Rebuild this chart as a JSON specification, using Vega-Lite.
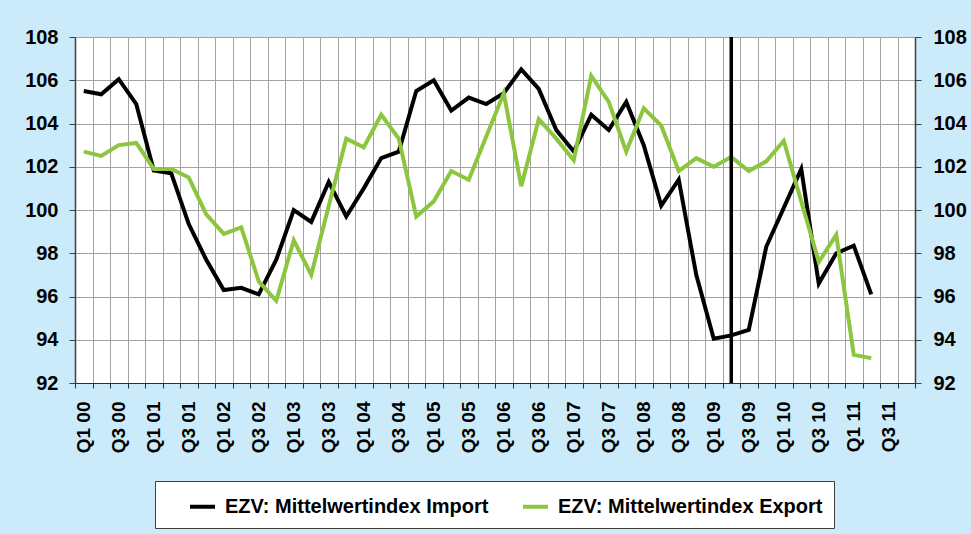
{
  "$schema": "https://vega.github.io/schema/vega-lite/v6.json",
  "width": 840,
  "height": 346,
  "autosize": {"type": "none"},
  "padding": {"left": 75, "top": 37, "right": 56, "bottom": 151},
  "background": "#ccebfa",
  "config": {"view": {"fill": "white", "stroke": null}, "font": "Liberation Sans"},
  "datasets": {
    "d": [
      {"q":"Q1 00","s":"EZV: Mittelwertindex Import","v":105.5},
      {"q":"Q2 00","s":"EZV: Mittelwertindex Import","v":105.35},
      {"q":"Q3 00","s":"EZV: Mittelwertindex Import","v":106.05},
      {"q":"Q4 00","s":"EZV: Mittelwertindex Import","v":104.9},
      {"q":"Q1 01","s":"EZV: Mittelwertindex Import","v":101.83},
      {"q":"Q2 01","s":"EZV: Mittelwertindex Import","v":101.7},
      {"q":"Q3 01","s":"EZV: Mittelwertindex Import","v":99.35},
      {"q":"Q4 01","s":"EZV: Mittelwertindex Import","v":97.7},
      {"q":"Q1 02","s":"EZV: Mittelwertindex Import","v":96.3},
      {"q":"Q2 02","s":"EZV: Mittelwertindex Import","v":96.4},
      {"q":"Q3 02","s":"EZV: Mittelwertindex Import","v":96.1},
      {"q":"Q4 02","s":"EZV: Mittelwertindex Import","v":97.7},
      {"q":"Q1 03","s":"EZV: Mittelwertindex Import","v":100.0},
      {"q":"Q2 03","s":"EZV: Mittelwertindex Import","v":99.45},
      {"q":"Q3 03","s":"EZV: Mittelwertindex Import","v":101.3},
      {"q":"Q4 03","s":"EZV: Mittelwertindex Import","v":99.7},
      {"q":"Q1 04","s":"EZV: Mittelwertindex Import","v":101.0},
      {"q":"Q2 04","s":"EZV: Mittelwertindex Import","v":102.4},
      {"q":"Q3 04","s":"EZV: Mittelwertindex Import","v":102.7},
      {"q":"Q4 04","s":"EZV: Mittelwertindex Import","v":105.5},
      {"q":"Q1 05","s":"EZV: Mittelwertindex Import","v":106.0},
      {"q":"Q2 05","s":"EZV: Mittelwertindex Import","v":104.6},
      {"q":"Q3 05","s":"EZV: Mittelwertindex Import","v":105.2},
      {"q":"Q4 05","s":"EZV: Mittelwertindex Import","v":104.9},
      {"q":"Q1 06","s":"EZV: Mittelwertindex Import","v":105.4},
      {"q":"Q2 06","s":"EZV: Mittelwertindex Import","v":106.5},
      {"q":"Q3 06","s":"EZV: Mittelwertindex Import","v":105.6},
      {"q":"Q4 06","s":"EZV: Mittelwertindex Import","v":103.7},
      {"q":"Q1 07","s":"EZV: Mittelwertindex Import","v":102.7},
      {"q":"Q2 07","s":"EZV: Mittelwertindex Import","v":104.4},
      {"q":"Q3 07","s":"EZV: Mittelwertindex Import","v":103.7},
      {"q":"Q4 07","s":"EZV: Mittelwertindex Import","v":105.0},
      {"q":"Q1 08","s":"EZV: Mittelwertindex Import","v":103.0},
      {"q":"Q2 08","s":"EZV: Mittelwertindex Import","v":100.2},
      {"q":"Q3 08","s":"EZV: Mittelwertindex Import","v":101.4},
      {"q":"Q4 08","s":"EZV: Mittelwertindex Import","v":97.0},
      {"q":"Q1 09","s":"EZV: Mittelwertindex Import","v":94.05},
      {"q":"Q2 09","s":"EZV: Mittelwertindex Import","v":94.2},
      {"q":"Q3 09","s":"EZV: Mittelwertindex Import","v":94.45},
      {"q":"Q4 09","s":"EZV: Mittelwertindex Import","v":98.3},
      {"q":"Q1 10","s":"EZV: Mittelwertindex Import","v":100.1},
      {"q":"Q2 10","s":"EZV: Mittelwertindex Import","v":101.9},
      {"q":"Q3 10","s":"EZV: Mittelwertindex Import","v":96.6},
      {"q":"Q4 10","s":"EZV: Mittelwertindex Import","v":98.0},
      {"q":"Q1 11","s":"EZV: Mittelwertindex Import","v":98.35},
      {"q":"Q2 11","s":"EZV: Mittelwertindex Import","v":96.1},
      {"q":"Q1 00","s":"EZV: Mittelwertindex Export","v":102.7},
      {"q":"Q2 00","s":"EZV: Mittelwertindex Export","v":102.5},
      {"q":"Q3 00","s":"EZV: Mittelwertindex Export","v":103.0},
      {"q":"Q4 00","s":"EZV: Mittelwertindex Export","v":103.1},
      {"q":"Q1 01","s":"EZV: Mittelwertindex Export","v":101.9},
      {"q":"Q2 01","s":"EZV: Mittelwertindex Export","v":101.9},
      {"q":"Q3 01","s":"EZV: Mittelwertindex Export","v":101.5},
      {"q":"Q4 01","s":"EZV: Mittelwertindex Export","v":99.8},
      {"q":"Q1 02","s":"EZV: Mittelwertindex Export","v":98.9},
      {"q":"Q2 02","s":"EZV: Mittelwertindex Export","v":99.2},
      {"q":"Q3 02","s":"EZV: Mittelwertindex Export","v":96.7},
      {"q":"Q4 02","s":"EZV: Mittelwertindex Export","v":95.8},
      {"q":"Q1 03","s":"EZV: Mittelwertindex Export","v":98.6},
      {"q":"Q2 03","s":"EZV: Mittelwertindex Export","v":97.0},
      {"q":"Q3 03","s":"EZV: Mittelwertindex Export","v":100.2},
      {"q":"Q4 03","s":"EZV: Mittelwertindex Export","v":103.3},
      {"q":"Q1 04","s":"EZV: Mittelwertindex Export","v":102.9},
      {"q":"Q2 04","s":"EZV: Mittelwertindex Export","v":104.4},
      {"q":"Q3 04","s":"EZV: Mittelwertindex Export","v":103.3},
      {"q":"Q4 04","s":"EZV: Mittelwertindex Export","v":99.7},
      {"q":"Q1 05","s":"EZV: Mittelwertindex Export","v":100.4},
      {"q":"Q2 05","s":"EZV: Mittelwertindex Export","v":101.8},
      {"q":"Q3 05","s":"EZV: Mittelwertindex Export","v":101.4},
      {"q":"Q4 05","s":"EZV: Mittelwertindex Export","v":103.4},
      {"q":"Q1 06","s":"EZV: Mittelwertindex Export","v":105.4},
      {"q":"Q2 06","s":"EZV: Mittelwertindex Export","v":101.1},
      {"q":"Q3 06","s":"EZV: Mittelwertindex Export","v":104.2},
      {"q":"Q4 06","s":"EZV: Mittelwertindex Export","v":103.3},
      {"q":"Q1 07","s":"EZV: Mittelwertindex Export","v":102.3},
      {"q":"Q2 07","s":"EZV: Mittelwertindex Export","v":106.2},
      {"q":"Q3 07","s":"EZV: Mittelwertindex Export","v":105.0},
      {"q":"Q4 07","s":"EZV: Mittelwertindex Export","v":102.7},
      {"q":"Q1 08","s":"EZV: Mittelwertindex Export","v":104.7},
      {"q":"Q2 08","s":"EZV: Mittelwertindex Export","v":103.9},
      {"q":"Q3 08","s":"EZV: Mittelwertindex Export","v":101.8},
      {"q":"Q4 08","s":"EZV: Mittelwertindex Export","v":102.4},
      {"q":"Q1 09","s":"EZV: Mittelwertindex Export","v":102.0},
      {"q":"Q2 09","s":"EZV: Mittelwertindex Export","v":102.45},
      {"q":"Q3 09","s":"EZV: Mittelwertindex Export","v":101.8},
      {"q":"Q4 09","s":"EZV: Mittelwertindex Export","v":102.25},
      {"q":"Q1 10","s":"EZV: Mittelwertindex Export","v":103.2},
      {"q":"Q2 10","s":"EZV: Mittelwertindex Export","v":100.4},
      {"q":"Q3 10","s":"EZV: Mittelwertindex Export","v":97.6},
      {"q":"Q4 10","s":"EZV: Mittelwertindex Export","v":98.85},
      {"q":"Q1 11","s":"EZV: Mittelwertindex Export","v":93.3},
      {"q":"Q2 11","s":"EZV: Mittelwertindex Export","v":93.15}
    ],
    "marker": [{"q": "Q2 09"}]
  },
  "data": {"name": "d"},
  "encoding": {
    "x": {
      "field": "q",
      "type": "ordinal",
      "bandPosition": 0.5,
      "scale": {
        "type": "band",
        "paddingInner": 0,
        "paddingOuter": 0,
        "domain": ["Q1 00","Q2 00","Q3 00","Q4 00","Q1 01","Q2 01","Q3 01","Q4 01","Q1 02","Q2 02","Q3 02","Q4 02","Q1 03","Q2 03","Q3 03","Q4 03","Q1 04","Q2 04","Q3 04","Q4 04","Q1 05","Q2 05","Q3 05","Q4 05","Q1 06","Q2 06","Q3 06","Q4 06","Q1 07","Q2 07","Q3 07","Q4 07","Q1 08","Q2 08","Q3 08","Q4 08","Q1 09","Q2 09","Q3 09","Q4 09","Q1 10","Q2 10","Q3 10","Q4 10","Q1 11","Q2 11","Q3 11","Q4 11"]
      },
      "axis": {
        "orient": "bottom",
        "title": null,
        "tickBand": "extent",
        "grid": true,
        "gridColor": "#a3a3a3",
        "gridWidth": 1,
        "domainColor": "#303030",
        "domainWidth": 1.2,
        "tickColor": "#303030",
        "tickSize": 5,
        "labelAngle": -90,
        "labelOverlap": false,
        "labelBound": false,
        "labelExpr": "test(/^Q[24]/, datum.label) ? '' : datum.label",
        "labelFont": "Liberation Sans",
        "labelFontWeight": "bold",
        "labelFontSize": 19,
        "labelColor": "black",
        "labelPadding": 13
      }
    }
  },
  "layer": [
    {
      "transform": [{"filter": "datum.s == 'EZV: Mittelwertindex Import'"}],
      "mark": {"type": "line", "strokeWidth": 4},
      "encoding": {
        "y": {
          "field": "v",
          "type": "quantitative",
          "scale": {"domain": [92, 108], "nice": false, "zero": false},
          "axis": {
            "orient": "left",
            "title": null,
            "values": [92, 94, 96, 98, 100, 102, 104, 106, 108],
            "grid": true,
            "gridColor": "#a3a3a3",
            "gridWidth": 1,
            "domainColor": "#404040",
            "domainWidth": 1.5,
            "tickColor": "#404040",
            "tickSize": 6,
            "labelFont": "Liberation Sans",
            "labelFontWeight": "bold",
            "labelFontSize": 20,
            "labelColor": "black",
            "labelPadding": 11
          }
        },
        "color": {
          "field": "s",
          "type": "nominal",
          "scale": {"domain": ["EZV: Mittelwertindex Import", "EZV: Mittelwertindex Export"], "range": ["#000000", "#8cc63f"]},
          "legend": {
            "orient": "none",
            "legendX": 80,
            "legendY": 444,
            "direction": "horizontal",
            "title": null,
            "symbolType": "stroke",
            "symbolSize": 625,
            "symbolStrokeWidth": 4,
            "labelFont": "Liberation Sans",
            "labelFontWeight": "bold",
            "labelFontSize": 20,
            "labelColor": "black",
            "labelLimit": 500,
            "labelOffset": 8,
            "fillColor": "white",
            "strokeColor": "#404040",
            "padding": 11,
            "symbolOffset": 22,
            "columnPadding": 10
          }
        }
      }
    },
    {
      "transform": [{"filter": "datum.s == 'EZV: Mittelwertindex Export'"}],
      "mark": {"type": "line", "strokeWidth": 4},
      "encoding": {
        "y": {
          "field": "v",
          "type": "quantitative",
          "scale": {"domain": [92, 108], "nice": false, "zero": false},
          "axis": {
            "orient": "right",
            "title": null,
            "values": [92, 94, 96, 98, 100, 102, 104, 106, 108],
            "grid": false,
            "domainColor": "#404040",
            "domainWidth": 1.5,
            "tickColor": "#404040",
            "tickSize": 6,
            "labelFont": "Liberation Sans",
            "labelFontWeight": "bold",
            "labelFontSize": 20,
            "labelColor": "black",
            "labelPadding": 12
          }
        },
        "color": {
          "field": "s",
          "type": "nominal",
          "scale": {"domain": ["EZV: Mittelwertindex Import", "EZV: Mittelwertindex Export"], "range": ["#000000", "#8cc63f"]},
          "legend": {
            "orient": "none",
            "legendX": 80,
            "legendY": 444,
            "direction": "horizontal",
            "title": null,
            "symbolType": "stroke",
            "symbolSize": 625,
            "symbolStrokeWidth": 4,
            "labelFont": "Liberation Sans",
            "labelFontWeight": "bold",
            "labelFontSize": 20,
            "labelColor": "black",
            "labelLimit": 500,
            "labelOffset": 8,
            "fillColor": "white",
            "strokeColor": "#404040",
            "padding": 11,
            "symbolOffset": 22,
            "columnPadding": 10
          }
        }
      }
    },
    {
      "data": {"name": "marker"},
      "mark": {"type": "rule", "color": "black", "strokeWidth": 3.5},
      "encoding": {}
    }
  ],
  "resolve": {"axis": {"y": "independent"}}
}
